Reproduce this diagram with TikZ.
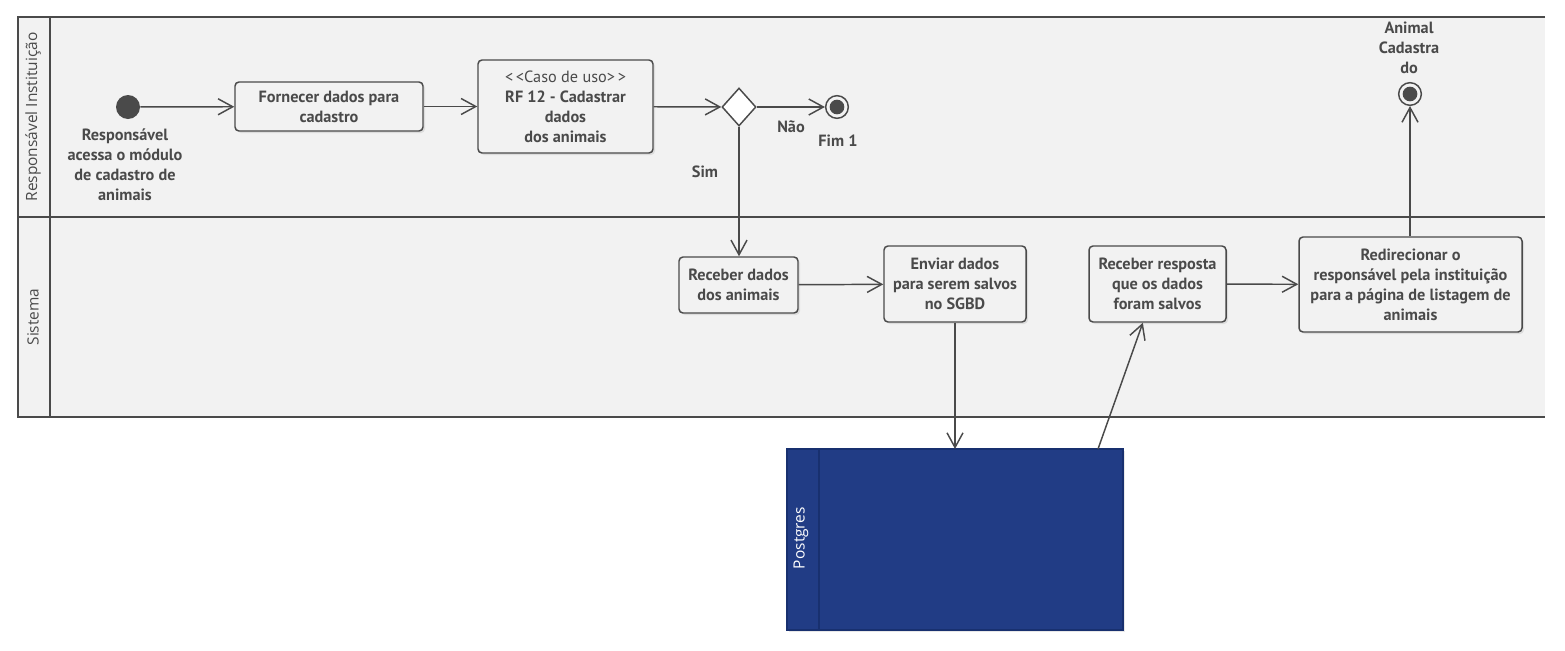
\documentclass[tikz,border=0pt]{standalone}
\usepackage{fontspec}
\setmainfont{PT Sans}
\newfontfamily\raiafont{Open Sans}
\usetikzlibrary{arrows.meta,shapes.geometric,shadows,calc}
\definecolor{linha}{HTML}{4A4A4A}
\definecolor{fundo}{HTML}{F2F2F2}
\definecolor{banco}{HTML}{213C85}
\definecolor{bancoborda}{HTML}{18306F}
\tikzset{
  acao/.style={draw=linha,line width=1.1pt,fill=fundo,rounded corners=3pt,align=center,
    inner sep=2pt,text=linha,drop shadow={opacity=0.18,shadow xshift=1.5pt,shadow yshift=-1.5pt}},
  inicio/.style={circle,fill=linha,minimum size=18pt,inner sep=0pt},
  fim/.style={circle,draw=linha,line width=1.1pt,fill=fundo,minimum size=17pt,inner sep=0pt,
    path picture={\fill[linha] (path picture bounding box.center) circle (5.5pt);}},
  decisao/.style={diamond,draw=linha,line width=1.1pt,fill=white,minimum width=25.5pt,
    minimum height=28.5pt,inner sep=0pt},
  seta/.style={draw=linha,line width=1.1pt,-{Straight Barb[length=11pt,width=12pt]}},
  rotulo/.style={text=linha,align=center},
  raia/.style={draw=linha,line width=1.5pt},
  titraia/.style={rotate=90,text=linha,font=\raiafont\fontsize{11.6}{13}\selectfont},
}

\begin{document}
\begin{tikzpicture}[x=0.75pt,y=-0.75pt,font=\bfseries\fontsize{12.2}{15}\selectfont]
  \useasboundingbox (0,0) rectangle (1565,650);
  % raias
  \fill[fundo] (18,17) rectangle (1545,417);
  \draw[raia] (1545,17) -- (18,17) -- (18,417) -- (1545,417);
  \draw[raia] (18,217) -- (1545,217);
  \draw[raia] (50,17) -- (50,417);
  \node[titraia] (r1) at (33,117) {Responsável Instituição};
  \node[titraia] (r2) at (33,317) {Sistema};

  % banco
  \draw[fill=banco,draw=bancoborda,line width=1pt,drop shadow={opacity=0.18,shadow xshift=1.5pt,shadow yshift=-1.5pt}]
    (787,449) rectangle (1123,630);
  \draw[bancoborda,line width=1pt] (819,449) -- (819,630);
  \node[titraia,text=white] (pg) at (801,538) {Postgres};
  \coordinate (pgtopo) at (955,449);
  \coordinate (pgsai) at (1098,449);

  % atividades
  \node[inicio] (ini) at (128,107) {};
  \node[rotulo] (ini-rot) at (125,165) {Responsável\\acessa o módulo\\de cadastro de\\animais};
  \node[acao,minimum width=141pt,minimum height=36.75pt] (forn) at (329,106.5) {Fornecer dados para\\cadastro};
  \node[acao,minimum width=131.25pt,minimum height=69.75pt] (caso) at (565.5,106.5)
    {{\mdseries<\,<Caso de uso>\,>}\\RF 12 - Cadastrar\\dados\\dos animais};
  \node[decisao] (dec) at (739,107) {};
  \node[fim] (fim1) at (837,107) {};
  \node[rotulo] (nao) at (791,127) {Não};
  \node[rotulo] (fim1-rot) at (838,141) {Fim 1};
  \node[rotulo] (sim) at (705,172) {Sim};
  \node[fim] (fim2) at (1410,94) {};
  \node[rotulo] (fim2-rot) at (1409,48) {Animal\\Cadastra\\do};

  \node[acao,minimum width=89.25pt,minimum height=42pt] (receb) at (738.5,285) {Receber dados\\dos animais};
  \node[acao,minimum width=106.5pt,minimum height=57pt] (envia) at (955,284) {Enviar dados\\para serem salvos\\no SGBD};
  \node[acao,minimum width=102.75pt,minimum height=57pt] (resp) at (1157.5,284) {Receber resposta\\que os dados\\foram salvos};
  \node[acao,minimum width=167.25pt,minimum height=71.25pt] (redir) at (1410.5,284.5)
    {Redirecionar o\\responsável pela instituição\\para a página de listagem de\\animais};

  % fluxos
  \draw[seta] (ini) -- (forn);
  \draw[seta] (forn) -- (caso);
  \draw[seta] (caso) -- (dec);
  \draw[seta] (dec) -- (fim1);
  \draw[seta] (dec.south) -- (dec.south |- receb.north);
  \draw[seta] (receb) -- (envia);
  \draw[seta] (envia.south) -- (pgtopo);
  \draw[seta] (pgsai) -- ([xshift=-11pt]resp.south);
  \draw[seta] (resp) -- (redir);
  \draw[seta] (redir.north -| fim2) -- (fim2.south);
\end{tikzpicture}
\end{document}
